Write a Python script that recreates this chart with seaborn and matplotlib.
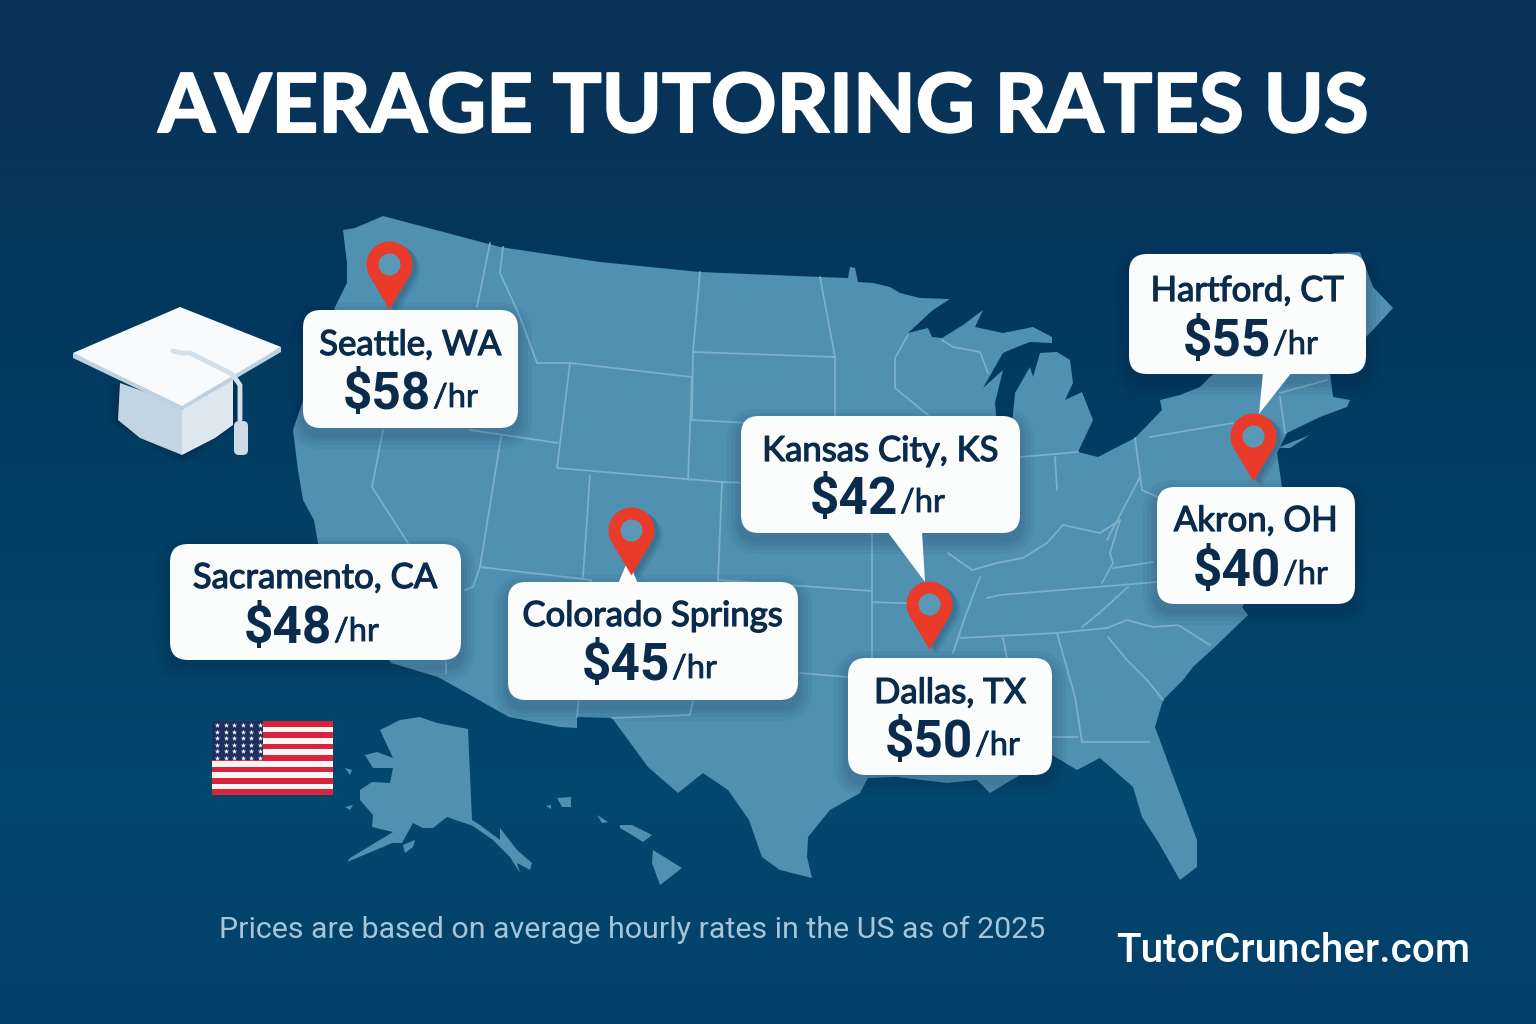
import numpy as np
import pandas as pd
import matplotlib
matplotlib.use("Agg")
import matplotlib.pyplot as plt
import matplotlib.patheffects as pe
import seaborn as sns
from matplotlib.patches import FancyBboxPatch, Polygon, Rectangle
from matplotlib.path import Path

# values
cities = ["Seattle, WA", "Hartford, CT", "Kansas City, KS", "Akron, OH",
          "Sacramento, CA", "Colorado Springs", "Dallas, TX"]
rates = [58, 55, 42, 40, 48, 45, 50]

# map pins (tip of the pin, image pixels)
pin_names = ["Seattle", "Colorado Springs", "Dallas", "Hartford"]
pin_x = [389, 631, 929, 1253]
pin_y = [309, 575, 649, 481]

# label boxes: left, top, right, bottom
box_left = [303, 1129, 741, 1157, 170, 508, 848]
box_top = [310, 254, 416, 487, 544, 582, 658]
box_right = [518, 1366, 1020, 1355, 461, 798, 1052]
box_bottom = [428, 374, 533, 604, 660, 700, 775]
city_y = [343, 289, 449, 519, 576, 614, 691]
rate_y = [392, 339, 497, 569, 626, 663, 740]
hr_x = [433, 1273, 900, 1283, 334, 672, 975]

tails = [[(1263, 372), (1292, 372), (1259, 414)],
         [(887, 531), (922, 531), (925, 582)],
         [(618, 584), (638, 584), (628, 560)]]

# outlines
us_outline = [
    (383, 216), (500, 247), (600, 262), (700, 272), (820, 277), (848, 278), (850, 267), (855, 268), (858, 282),
    (873, 283), (890, 287), (900, 293), (920, 298), (950, 299), (933, 310), (908, 333), (928, 328), (932, 337),
    (942, 338), (963, 325), (983, 310), (975, 327), (1003, 333), (1033, 327), (1052, 337), (1052, 343),
    (1030, 342), (1017, 347), (1003, 353), (983, 388), (1003, 370), (995, 403), (997, 425), (1012, 425),
    (1015, 393), (1030, 367), (1033, 377), (1040, 353), (1057, 352), (1070, 360), (1073, 383), (1065, 400),
    (1082, 392), (1093, 420), (1078, 452), (1098, 457), (1135, 438), (1162, 410), (1160, 400), (1180, 395),
    (1200, 387), (1210, 377), (1250, 345), (1333, 253), (1360, 252), (1373, 287), (1393, 308), (1373, 330),
    (1330, 373), (1333, 397), (1350, 400), (1347, 407), (1320, 417), (1287, 433), (1277, 453), (1282, 487),
    (1300, 530), (1242, 607), (1248, 615), (1217, 645), (1193, 667), (1183, 680), (1163, 700), (1155, 727),
    (1172, 773), (1197, 840), (1197, 867), (1180, 880), (1157, 840), (1142, 817), (1133, 787), (1100, 758),
    (1077, 770), (1052, 755), (1020, 775), (990, 793), (977, 780), (947, 783), (897, 777), (868, 778),
    (860, 793), (830, 810), (808, 837), (807, 857), (812, 878), (780, 870), (762, 857), (749, 820), (728, 790),
    (703, 773), (678, 793), (648, 767), (612, 718), (577, 717), (577, 728), (560, 727), (509, 717), (438, 677),
    (391, 663), (318, 543), (314, 520), (303, 500), (298, 470), (293, 430), (335, 307), (347, 283), (347, 263),
    (343, 230), (355, 228),
]
alaska = [
    (380, 730), (400, 720), (420, 717), (437, 723), (468, 729), (472, 820), (480, 825), (500, 840), (500, 828),
    (517, 850), (532, 863), (530, 870), (517, 863), (520, 873), (510, 857), (493, 840), (473, 826), (447, 817),
    (433, 828), (423, 828), (413, 823), (402, 843), (392, 843), (383, 847), (347, 862), (350, 858), (393, 832),
    (372, 827), (373, 815), (360, 800), (360, 790), (372, 782), (390, 783), (393, 768), (373, 768), (365, 755),
    (377, 752), (393, 758),
]
islands = [
    [(403, 845), (415, 840), (413, 847), (405, 853)],
    [(345, 768), (352, 770), (350, 775)],
    [(345, 807), (353, 805), (350, 810)],
    [(653, 850), (682, 868), (660, 885), (652, 863)],
    [(620, 825), (632, 825), (652, 835), (643, 842), (632, 835), (620, 828)],
    [(597, 815), (608, 822), (602, 823)],
    [(557, 798), (571, 797), (571, 807), (562, 807)],
    [(546, 806), (551, 805), (551, 809)],
    [(1277, 448), (1310, 435), (1290, 448)],
]

borders = [
    [(490, 243), (477, 307)], [(503, 247), (500, 273), (520, 317), (537, 363), (570, 363)],
    [(383, 430), (372, 487), (408, 543)], [(470, 430), (558, 443)], [(501, 437), (480, 567), (473, 587), (465, 590)],
    [(446, 663), (446, 673)], [(480, 567), (591, 580)], [(590, 475), (583, 577)], [(570, 363), (557, 468), (722, 482)],
    [(570, 363), (692, 377), (688, 480)], [(700, 272), (693, 352), (692, 420)], [(693, 352), (835, 357)],
    [(820, 277), (835, 357), (835, 428)], [(692, 420), (845, 428)], [(722, 482), (871, 488), (872, 537), (872, 657)],
    [(722, 482), (718, 580), (872, 591)], [(718, 580), (690, 715), (612, 718)], [(591, 580), (577, 717)],
    [(800, 673), (847, 677)], [(872, 602), (950, 605)],
    [(908, 335), (895, 358), (895, 388), (928, 415)], [(942, 340), (953, 347), (980, 352), (988, 373)],
    [(1020, 457), (1078, 452)], [(1055, 457), (1057, 490)], [(1135, 438), (1142, 490), (1158, 497)],
    [(1150, 437), (1233, 423)],
    [(948, 553), (972, 570), (997, 563), (1023, 558), (1047, 543), (1063, 525), (1100, 533), (1120, 520)],
    [(1120, 520), (1110, 553), (1113, 563), (1102, 583)], [(1113, 568), (1153, 562)],
    [(987, 598), (1000, 595), (1157, 582)], [(960, 638), (1057, 633), (1107, 628)],
    [(1128, 587), (1097, 615), (1082, 627)],
    [(1107, 628), (1127, 620), (1153, 627), (1178, 625), (1210, 645)],
    [(1108, 637), (1127, 660), (1147, 680), (1163, 700)],
    [(1057, 633), (1075, 697), (1082, 742), (1150, 742)], [(1052, 737), (1078, 737)],
    [(1003, 638), (1007, 658)], [(980, 577), (965, 617), (953, 653)],
    [(1140, 477), (1107, 540)], [(1280, 397), (1285, 433)], [(1280, 393), (1327, 380)],
]

NAVY = "#0b2b4c"
PIN_RED = "#ea3a29"
MAP_BLUE = "#5090b1"
LINE_BLUE = "#7db0c9"
LABEL_FONT = ["Lato", "Roboto", "DejaVu Sans"]

sns.set_theme(style="white")
plt.rcParams["font.family"] = ["Roboto", "DejaVu Sans"]

fig = plt.figure(figsize=(15.36, 10.24), dpi=100)
ax = fig.add_axes([0, 0, 1, 1])

# background, darker at the top and lighter below
stops = [0, 0.3, 0.78, 1]
stop_cols = np.array([matplotlib.colors.to_rgb(c) for c in ["#0b3156", "#02385e", "#02486f", "#043f69"]])
rows = np.linspace(0, 1, 256)
grad = np.column_stack([np.interp(rows, stops, stop_cols[:, c]) for c in range(3)])
ax.imshow(grad[:, None, :], extent=[0, 1536, 1024, 0], aspect="auto", zorder=0)


def land(points):
    ax.add_patch(Polygon(points, closed=True, fc=MAP_BLUE, ec="none", zorder=1))


land(us_outline)
land(alaska)
for isle in islands:
    land(isle)

for line in borders:
    xs, ys = zip(*line)
    ax.plot(xs, ys, color=LINE_BLUE, lw=1.3, solid_joinstyle="round", zorder=2)

# label boxes with soft shadow
for i in range(len(cities)):
    l, t, r, b = box_left[i], box_top[i], box_right[i], box_bottom[i]
    for grow in [14, 10, 6, 3]:
        ax.add_patch(FancyBboxPatch((l - grow, t - grow + 7), r - l + 2 * grow, b - t + 2 * grow,
                                    boxstyle="round,pad=0,rounding_size=%d" % (18 + grow),
                                    fc="#04213d", ec="none", alpha=0.05, zorder=3))
    ax.add_patch(FancyBboxPatch((l, t), r - l, b - t, boxstyle="round,pad=0,rounding_size=18",
                                fc="#fbfcfc", ec="none", zorder=5))
for tail in tails:
    ax.add_patch(Polygon(tail, closed=True, fc="#fbfcfc", ec="none", zorder=5))

for i, city in enumerate(cities):
    cx = (box_left[i] + box_right[i]) / 2
    ax.text(cx, city_y[i] + 2, city, ha="center", va="center", fontsize=25, family=LABEL_FONT,
            color=NAVY, zorder=6, path_effects=[pe.withStroke(linewidth=0.9, foreground=NAVY)])
    ax.text(hr_x[i] - 2, rate_y[i] + 3, "$%d" % rates[i], ha="right", va="center", fontsize=37,
            fontweight="bold", color=NAVY, zorder=6)
    ax.text(hr_x[i], rate_y[i] + 6, "/hr", ha="left", va="center", fontsize=23.5, family=LABEL_FONT,
            color=NAVY, zorder=6, path_effects=[pe.withStroke(linewidth=0.6, foreground=NAVY)])

# pin marker with the tip at the origin
theta = np.linspace(np.radians(-32), np.radians(212), 60)
head_x = 23 * np.cos(theta)
head_y = 45 + 23 * np.sin(theta)
verts = np.column_stack([np.r_[0, head_x, 0], np.r_[0, head_y, 0]])
pin_path = Path(verts, [Path.MOVETO] + [Path.LINETO] * (len(verts) - 2) + [Path.CLOSEPOLY])

# marker spans twice its height because the tip sits at the centre
pin_size = (2 * verts[:, 1].max() * 0.72) ** 2
pins = pd.DataFrame({"name": pin_names, "x": pin_x, "y": pin_y})
for shift, alpha in [(8, 0.08), (6, 0.10), (4, 0.12)]:
    shadow = pins.assign(x=pins["x"] + shift, y=pins["y"] + shift * 0.6)
    sns.scatterplot(data=shadow, x="x", y="y", marker=pin_path, s=pin_size, color="#06314f", alpha=alpha,
                    linewidth=0, legend=False, ax=ax, zorder=4)
sns.scatterplot(data=pins, x="x", y="y", marker=pin_path, s=pin_size, color=PIN_RED,
                linewidth=0, legend=False, ax=ax, zorder=7)
sns.scatterplot(data=pins.assign(y=pins["y"] - 45), x="x", y="y", s=(22 * 0.72) ** 2, color="#5b98b6",
                linewidth=0, legend=False, ax=ax, zorder=8)

# graduation cap
for grow in [10, 6, 3]:
    ax.add_patch(Polygon([(118 - grow, 385), (118 - grow, 422), (182, 455 + grow), (233 + grow, 425), (233 + grow, 380)],
                         closed=True, fc="#02223f", alpha=0.12, ec="none", zorder=2))
ax.add_patch(Polygon([(120, 383), (118, 420), (140, 438), (182, 455), (182, 405)], closed=True, fc="#c3d4e2", ec="none", zorder=3))
ax.add_patch(Polygon([(182, 405), (182, 455), (215, 438), (233, 425), (233, 378)], closed=True, fc="#dde7ef", ec="none", zorder=3))
ax.add_patch(Polygon([(73, 353), (73, 358), (182, 410), (281, 352), (281, 347), (182, 402)], closed=True,
                     fc="#bfd0de", ec="none", zorder=4))
ax.add_patch(Polygon([(180, 307), (281, 347), (182, 406), (73, 353)], closed=True, fc="#f8fafb", ec="none", zorder=4))
ax.plot([173, 182, 190, 232, 240, 240], [351, 353, 353, 374, 385, 420], color="#d3e0ea", lw=3.5,
        solid_capstyle="round", zorder=5)
ax.add_patch(FancyBboxPatch((234, 421), 14, 34, boxstyle="round,pad=0,rounding_size=5", fc="#cddbe6", ec="none", zorder=5))

# flag
flag_l, flag_r, flag_t, flag_b = 212, 333, 721, 795
stripe_h = (flag_b - flag_t) / 13
for k in range(13):
    ax.add_patch(Rectangle((flag_l, flag_t + k * stripe_h), flag_r - flag_l, stripe_h,
                           fc="#d8243c" if k % 2 == 0 else "#fbf6f2", ec="none", zorder=3))
ax.add_patch(Rectangle((flag_l, flag_t), 51, 39, fc="#1d2f5e", ec="none", zorder=4))
star_x, star_y = np.meshgrid(np.arange(217, 262, 8.5), np.arange(725, 758, 6.5))
ax.scatter(star_x.ravel(), star_y.ravel(), marker="*", s=16, color="white", linewidth=0, zorder=5)

ax.text(763, 109, "AVERAGE TUTORING RATES US", ha="center", va="center", fontsize=58.6, fontweight="bold",
        family=LABEL_FONT, color="white", zorder=6, path_effects=[pe.withStroke(linewidth=1.5, foreground="white")])
ax.text(632, 930, "Prices are based on average hourly rates in the US as of 2025", ha="center", va="center",
        fontsize=21.9, color="#a5c6da", zorder=6)
ax.text(1293, 951, "TutorCruncher.com", ha="center", va="center", fontsize=29.2, fontweight="medium",
        color="white", zorder=6)

ax.set_xlim(0, 1536)
ax.set_ylim(1024, 0)
ax.set_xlabel("")
ax.set_ylabel("")
ax.axis("off")

fig.savefig("out.png", dpi=100)
